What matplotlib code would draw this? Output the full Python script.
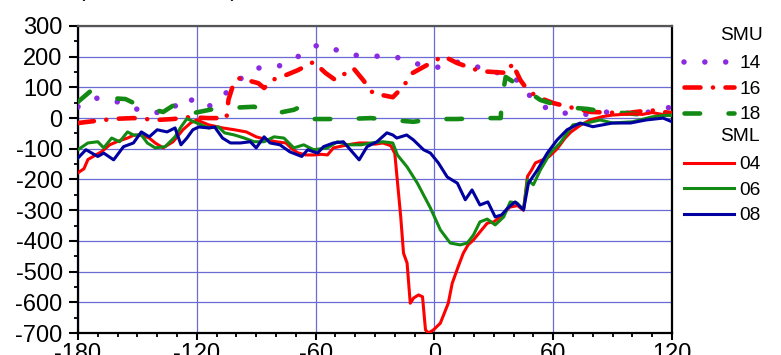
import matplotlib
matplotlib.use("Agg")
import matplotlib.pyplot as plt
from matplotlib.ticker import MultipleLocator

plt.rcParams['font.family'] = ['Liberation Sans', 'DejaVu Sans']
plt.rcParams['axes.unicode_minus'] = False
plt.rcParams['lines.scale_dashes'] = False

# ---- SMU series (upper envelope) ----
smu14_t = [-180, -171, -163, -155, -145, -134, -126, -115, -107, -99, -89, -79, -69, -59, -51,
           -41, -30, -19, -10, 0, 10, 20, 28, 32, 44, 50, 61, 74, 85, 97, 110, 120]
smu14_v = [37, 65, 60, 40, 17, 20, 70, 33, 70, 124, 163, 168, 200, 238, 225,
           205, 202, 198, 179, 162, 185, 167, 163, 147, 118, 53, 20, 10, 20, 16, 20, 37]

smu16_t = [-180, -167, -160, -152, -140, -132, -124, -114, -105, -104, -102, -99, -95, -89, -86,
           -82, -75, -69, -61, -55, -50, -41, -36, -31, -21, -16, -11, -2, 4.5, 11.6, 23,
           37.3, 39.3, 43.4, 47, 52, 60, 72, 79, 97, 109, 120]
smu16_v = [-16, -6, -2, 0, -6, -3, 3, 0, 0, 60, 101, 130, 124, 114, 98,
           124, 140, 156, 183, 147, 124, 163, 124, 81, 68, 101, 147, 179, 202, 179, 153,
           147, 179, 124, 92, 69, 49, 30, 20, 16, 26, 16]

smu18_t = [-180, -174, -163, -156, -148, -137, -129, -122, -112, -104, -91, -82, -71, -67.6,
           -66.5, -55, -45, -32, -22, -10.6, -0.5, 11.6, 21.7, 33.5, 34, 36, 44, 53.5, 65,
           77, 87, 97, 107, 120]
smu18_v = [53, 86, 65, 62, 37, 20, 53, 16, 29, 33, 37, 13, 27, 37,
           -3, -3, -3, 0, -6, -12, -3, -3, 0, 0, 60, 134, 101, 59, 36,
           30, 20, 16, 10, 12]

# ---- SML series (lower envelope) ----
sml04_t = [-180, -177, -175, -171, -168, -164, -160, -155, -152, -148, -144, -141, -137, -132,
           -127, -123, -120, -114, -107, -101, -95, -90, -85, -80, -75, -72, -69, -65, -61,
           -57, -54, -51, -46, -42, -38, -34, -30, -26, -22, -20, -17, -15.6, -13.8, -12.2,
           -10.5, -8, -6, -4.5, -3, -0.5, 3, 7, 9, 12, 14.6, 17, 19.7, 23, 26.7, 30, 34, 38,
           42, 45, 47, 49, 51, 55, 58, 62, 66, 69, 74, 79, 85, 90, 100, 105, 110, 115, 120]
sml04_v = [-178, -165, -135, -120, -109, -87, -76, -65, -56, -55, -65, -81, -97, -77,
           -38, -15, -6, -22, -32, -38, -45, -61, -70, -77, -81, -100, -113, -120, -120,
           -118, -120, -97, -90, -85, -81, -81, -85, -81, -90, -115, -322, -440, -472, -603,
           -586, -576, -582, -690, -700, -690, -668, -603, -538, -484, -440, -413, -397, -371, -342, -338, -318, -290,
           -285, -300, -190, -170, -146, -135, -125, -100, -65, -45, -22, -5, 5, 10, 14, 12, 18, 12, 16]

sml06_t = [-180, -175, -170, -167, -163, -159, -155, -152, -148, -145, -141, -136, -131, -128,
           -125, -120, -114, -109, -106, -101, -96, -91, -86, -81, -76, -71, -66, -61, -54,
           -49, -44, -37, -32, -26, -21, -18.7, -13.8, -8.6, -2, 3, 8, 13, 16.6, 19.7, 23,
           26.7, 30.7, 35, 38.3, 41.8, 45, 47, 50, 53.5, 58.5, 63.5, 70, 77, 83.7, 90, 100,
           110, 115, 120]
sml06_v = [-103, -81, -77, -97, -65, -77, -45, -55, -55, -81, -97, -93, -61, -29,
           -2, -16, -32, -29, -48, -55, -65, -77, -77, -61, -65, -97, -87, -103, -97,
           -77, -87, -87, -81, -77, -81, -120, -159, -212, -293, -364, -407, -413, -407, -381, -338,
           -329, -348, -322, -273, -277, -299, -201, -217, -169, -114, -81, -22, -16, -6, -16, -12,
           4, 8, 10]

sml08_t = [-180, -176, -170, -167, -162, -157, -152, -148, -144, -140, -135, -131, -128, -125,
           -122, -119, -114, -111, -107, -103, -98, -93, -90, -86, -83, -78, -73, -67, -64,
           -59, -56, -51, -46, -38, -34, -29, -24, -21, -19, -14, -10.6, -5.5, -2, 2, 6.5,
           11.6, 15.6, 19, 23, 27, 30.7, 34, 37, 40.8, 45, 47.5, 52, 57, 62, 67, 73.6, 80,
           90, 99, 107, 115.5, 120]
sml08_v = [-130, -103, -125, -114, -136, -93, -81, -45, -61, -38, -45, -32, -87, -65,
           -38, -29, -32, -29, -65, -81, -81, -77, -97, -61, -81, -87, -110, -125, -103,
           -114, -93, -81, -77, -136, -93, -77, -48, -55, -65, -55, -71, -103, -114, -146, -192,
           -212, -266, -234, -283, -273, -322, -315, -293, -273, -299, -212, -169, -114, -71, -38, -16, -28,
           -16, -16, -6, 0, -12]

x_ticks = [-180, -120, -60, 0, 60, 120]
y_ticks = [300, 200, 100, 0, -100, -200, -300, -400, -500, -600, -700]

PURPLE = '#8a2be2'
RED = '#ff0000'
GREEN = '#138a13'
NAVY = '#0000a0'

fig = plt.figure(figsize=(7.81, 3.55), dpi=100)
ax = fig.add_axes([78 / 781, 22 / 355, 594 / 781, 307 / 355])

lw_smu = 3.3
lw_sml = 2.2

l14, = ax.plot(smu14_t, smu14_v, color=PURPLE, lw=4.0, dash_capstyle='round',
               dashes=(0.01, 15.0), label='14', zorder=3)
l16, = ax.plot(smu16_t, smu16_v, color=RED, lw=lw_smu, dash_capstyle='round',
               dashes=(11.5, 9, 0.01, 9), label='16', zorder=3)
l18, = ax.plot(smu18_t, smu18_v, color=GREEN, lw=lw_smu, dash_capstyle='round',
               dashes=(11.2, 20.5), label='18', zorder=3)

l04, = ax.plot(sml04_t, sml04_v, color=RED, lw=lw_sml, label='04', zorder=4)
l06, = ax.plot(sml06_t, sml06_v, color=GREEN, lw=lw_sml, label='06', zorder=4)
l08, = ax.plot(sml08_t, sml08_v, color=NAVY, lw=lw_sml, label='08', zorder=4)

ax.set_xlim(-180, 120)
ax.set_ylim(-700, 300)
ax.set_xticks(x_ticks)
ax.set_yticks(y_ticks)
ax.set_xticklabels([str(v) for v in x_ticks])
ax.set_yticklabels([str(v) for v in y_ticks])
ax.xaxis.set_minor_locator(MultipleLocator(10))
ax.yaxis.set_minor_locator(MultipleLocator(50))

ax.grid(True, which='major', color='#6b6bd6', lw=0.9, zorder=1)
ax.set_axisbelow(True)

ax.tick_params(axis='both', which='major', direction='out', labelsize=17, width=1.5, color='black')
ax.tick_params(axis='y', which='major', length=6.5, pad=4.5)
ax.tick_params(axis='x', which='major', length=5, pad=2.2)
ax.tick_params(axis='both', which='minor', direction='out', length=3, width=1.3)
ax.tick_params(top=False, right=False)

for side in ['left', 'bottom', 'right']:
    ax.spines[side].set_color('black')
    ax.spines[side].set_linewidth(1.6)
ax.spines['top'].set_color('#555555')
ax.spines['top'].set_linewidth(1.6)

# Two stacked legends, each under its own group heading
leg_kw = dict(frameon=False, fontsize=13.8, borderpad=0, borderaxespad=0,
              handlelength=2.61, handletextpad=0.26, labelspacing=0.42)
leg1 = fig.legend(handles=[l14, l16, l18], loc='upper left',
                  bbox_to_anchor=(684 / 781, 1 - 55 / 355), **leg_kw)
leg2 = fig.legend(handles=[l04, l06, l08], loc='upper left',
                  bbox_to_anchor=(684 / 781, 1 - 156 / 355), **leg_kw)
fig.text(720 / 781, 1 - 35 / 355, 'SMU', fontsize=13.8, ha='left', va='center')
fig.text(720 / 781, 1 - 137 / 355, 'SML', fontsize=13.8, ha='left', va='center')

fig.text(78 / 781, 1 + 4 / 355, '(SMU and SML)', fontsize=16, va='baseline', ha='left')

fig.savefig('out.png', dpi=100)
